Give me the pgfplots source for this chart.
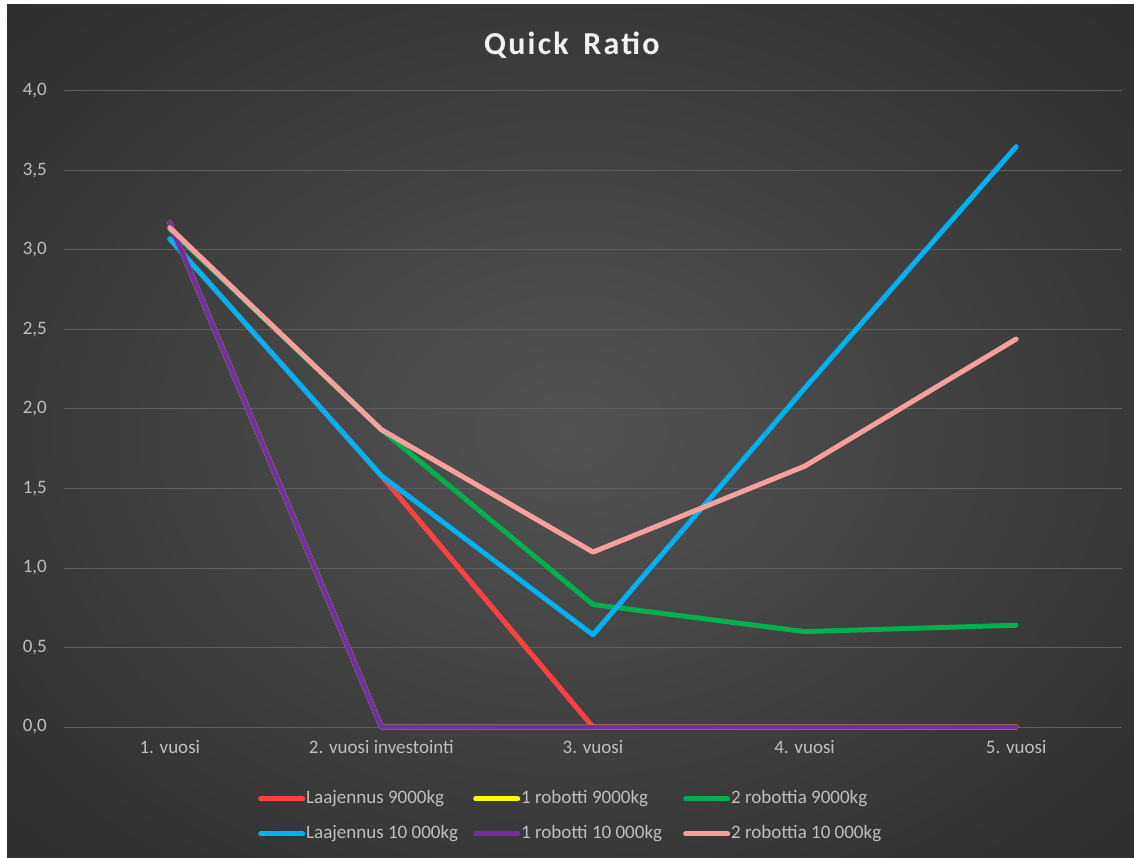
\documentclass[border=0pt]{standalone}
\usepackage{pgfplots}
\pgfplotsset{compat=1.18}
\usepackage{fontspec}
\setmainfont{Carlito}
\definecolor{bgin}{HTML}{535353}
\definecolor{bgmid}{HTML}{333333}
\definecolor{bgout}{HTML}{232323}
\definecolor{gridc}{HTML}{5E5E5E}
\definecolor{tickc}{HTML}{BFBFBF}
\definecolor{titlec}{HTML}{F2F2F2}
\definecolor{cred}{HTML}{FF4040}
\definecolor{cyellow}{HTML}{FFFF00}
\definecolor{cgreen}{HTML}{00B050}
\definecolor{cblue}{HTML}{00B0F0}
\definecolor{cpurple}{HTML}{7030A0}
\definecolor{cpink}{HTML}{F8A0A0}
\pgfdeclareradialshading{bgshade}{\pgfpoint{0bp}{0bp}}{color(0bp)=(bgin); color(30bp)=(bgmid); color(52bp)=(bgout); color(75bp)=(bgout)}
\begin{document}
\begin{tikzpicture}
\fill[white] (0,0) rectangle (1134pt,857pt);
\shade[shading=bgshade] (7pt,0pt) rectangle (1134pt,852pt);
\begin{axis}[
  at={(64pt,130pt)}, anchor=south west,
  scale only axis, width=1058pt, height=636pt,
  xmin=-0.5, xmax=4.5, ymin=0, ymax=4,
  clip=false,
  axis line style={draw=none},
  major tick length=0pt,
  xtick={0,1,2,3,4},
  xticklabels={1. vuosi, 2. vuosi investointi, 3. vuosi, 4. vuosi, 5. vuosi},
  ytick={0,0.5,1,1.5,2,2.5,3,3.5,4},
  ymajorgrids, grid style={draw=gridc, line width=1pt},
  /pgf/number format/.cd, fixed, fixed zerofill, precision=1, use comma, assume math mode=true,
  /pgfplots/.cd,
  tick label style={font=\fontsize{19}{22}\selectfont, text=tickc},
  yticklabel style={anchor=east, inner sep=0pt, xshift=-17pt},
  xticklabel style={anchor=north, inner sep=0pt, yshift=-13pt},
  title={\addfontfeature{LetterSpace=7}Quick\hspace{5pt} Ratio},
  title style={at={(0.48,1.062)}, anchor=center, font=\fontsize{32}{36}\selectfont\bfseries, text=titlec},
  every axis plot/.append style={line width=5pt, line cap=round, line join=round},
  legend columns=3,
  legend cell align=left,
  legend image code/.code={\draw[#1, line width=5pt, line cap=round] (2.5pt,0pt) -- (44.5pt,0pt);},
  legend style={at={(0.1834,-0.097)}, anchor=north west, draw=none, fill=none, inner sep=0pt,
    text=tickc, font=\fontsize{19}{22}\selectfont, row sep=15pt,
    nodes={inner sep=1pt, text height=14pt, text depth=4pt}},
]
\addplot[cred] coordinates {(0,3.07) (1,1.58) (2,0) (3,0) (4,0)};
\addlegendentry{\makebox[166pt][l]{Laajennus 9000kg}}
\addplot[cyellow] coordinates {(0,3.17) (1,0) (2,0) (3,0) (4,0)};
\addlegendentry{\makebox[161pt][l]{1 robotti 9000kg}}
\addplot[cgreen] coordinates {(0,3.13) (1,1.87) (2,0.77) (3,0.60) (4,0.64)};
\addlegendentry{2 robottia 9000kg}
\addplot[cblue] coordinates {(0,3.07) (1,1.58) (2,0.58) (3,2.13) (4,3.65)};
\addlegendentry{\makebox[166pt][l]{Laajennus 10 000kg}}
\addplot[cpurple] coordinates {(0,3.17) (1,0) (2,0) (3,0) (4,0)};
\addlegendentry{\makebox[161pt][l]{1 robotti 10 000kg}}
\addplot[cpink] coordinates {(0,3.14) (1,1.87) (2,1.10) (3,1.64) (4,2.44)};
\addlegendentry{2 robottia 10 000kg}
\end{axis}
\pgfresetboundingbox
\useasboundingbox (0,0) rectangle (1134pt,857pt);
\end{tikzpicture}
\end{document}
